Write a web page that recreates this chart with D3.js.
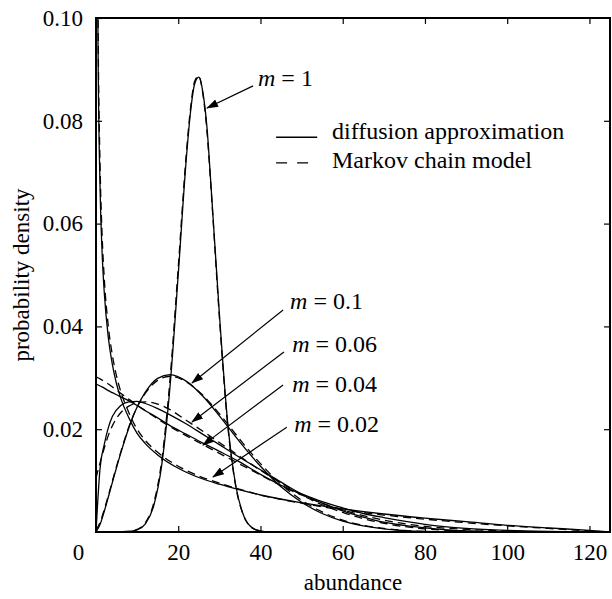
<!DOCTYPE html>
<meta charset="utf-8">
<script src="https://d3js.org/d3.v7.min.js"></script>
<div id="chart"></div>
<script>

// abundance grids
const xTail = [0, 1, 2, 3, 4, 6, 8, 10, 12, 15, 18, 22, 26, 30, 35, 40, 45, 50, 55, 60, 65, 70, 80, 90, 100, 110, 120];
const xNear = [0.3, 0.5, 1, 1.5, 2, 3, 4, 5, 6, 8, 10, 12, 15, 20, 25, 30, 35, 40, 50, 60, 70, 80, 90, 100, 110, 120, 125];
const xPeak = [0, 8, 10, 12, 14, 16, 18, 20, 22, 23, 24, 25, 26, 27, 28, 30, 32, 34, 36, 38, 40, 42, 50];

// m = 1
const m1Diff   = [0, .0001, .0004, .0016, .0050, .0131, .0283, .0501, .0730, .0818, .0872, .0885, .0855, .0786, .0670, .0425, .0215, .0090, .0030, .0008, .0002, 0, 0];
const m1Markov = [0, .0001, .0005, .0018, .0055, .0140, .0297, .0515, .0740, .0825, .0877, .0887, .0852, .0778, .0665, .0418, .0210, .0088, .0030, .0008, .0002, 0, 0];

// m = 0.1
const m01Diff   = [0, .0015, .0040, .0068, .0097, .0153, .0203, .0243, .0272, .0299, .0306, .0293, .0264, .0226, .0175, .0128, .0088, .0058, .0036, .0021, .0012, .0006, .0001, 0, 0, 0, 0];
const m01Markov = [.0004, .0019, .0043, .0071, .0100, .0155, .0205, .0243, .0270, .0295, .0303, .0292, .0266, .0230, .0180, .0133, .0093, .0062, .0039, .0023, .0013, .0007, .0001, 0, 0, 0, 0];

// m = 0.06
const m006Diff   = [0, .0125, .0170, .0203, .0225, .0246, .0253, .0254, .0250, .0240, .0228, .0210, .0190, .0170, .0145, .0121, .0097, .0074, .0056, .0041, .0029, .0019, .0008, .0002, .00005, 0, 0];
const m006Markov = [.0105, .0135, .0163, .0188, .0207, .0232, .0245, .0251, .0253, .0249, .0238, .0217, .0196, .0174, .0147, .0120, .0095, .0072, .0053, .0038, .0026, .0017, .0006, .0002, 0, 0, 0];

// m = 0.04
const m004Diff   = [.0288, .0284, .0280, .0275, .0271, .0263, .0255, .0246, .0236, .0222, .0207, .0190, .0173, .0157, .0136, .0112, .0091, .0074, .0059, .0047, .0036, .0028, .0015, .0007, .0003, .0001, 0];
const m004Markov = [.0302, .0298, .0293, .0288, .0282, .0270, .0258, .0247, .0236, .0220, .0205, .0187, .0170, .0153, .0132, .0111, .0090, .0072, .0056, .0043, .0032, .0023, .0011, .0005, .0002, 0, 0];

// m = 0.02
const m002Diff   = [.122, .0945, .0665, .0541, .0467, .0378, .0325, .0288, .0261, .0222, .0192, .0172, .0150, .0124, .0106, .0093, .0082, .0072, .0057, .0045, .0035, .0027, .0020, .0013, .0008, .0003, 0];
const m002Markov = [.130, .100, .071, .0575, .0495, .0400, .0343, .0303, .0274, .0232, .0200, .0178, .0155, .0128, .0109, .0095, .0083, .0072, .0056, .0043, .0033, .0025, .0018, .0012, .0007, .0002, 0];

// tick labels
const xTicks = [0, 20, 40, 60, 80, 100, 120];
const yTicks = [0.02, 0.04, 0.06, 0.08, 0.10];

// annotation labels: text, label anchor, arrow start, arrow tip (data units)
const annLabels = ["1", "0.1", "0.06", "0.04", "0.02"];
const annText  = [[39.4, .0868], [47.2, .0434], [47.7, .0350], [47.7, .0272], [48.2, .0195]];
const annStart = [[38.2, .0868], [45.5, .0432], [45.7, .0350], [45.5, .0286], [46.4, .0204]];
const annTip   = [[27.0, .0825], [23.35, .0290], [23.35, .0214], [26.0, .0169], [28.45, .0107]];

const series = [
  {x: xPeak, diff: m1Diff, markov: m1Markov},
  {x: xTail, diff: m01Diff, markov: m01Markov},
  {x: xTail, diff: m006Diff, markov: m006Markov},
  {x: xTail, diff: m004Diff, markov: m004Markov},
  {x: xNear, diff: m002Diff, markov: m002Markov}
];

const FONT = '"Liberation Serif"';
const W = 612, H = 599;
const margin = {top: 18, right: 2, bottom: 67, left: 96},
    width = W - margin.left - margin.right,
    height = H - margin.top - margin.bottom;

d3.select("body").style("margin", "0px");
const svg = d3.select("#chart").append("svg")
    .attr("width", W).attr("height", H)
    .style("font-family", FONT);

const defs = svg.append("defs");
defs.append("clipPath").attr("id", "plotclip")
  .append("rect").attr("width", width).attr("height", height);
defs.append("marker")
    .attr("id", "arrow")
    .attr("markerUnits", "userSpaceOnUse")
    .attr("markerWidth", 12).attr("markerHeight", 8)
    .attr("refX", 11).attr("refY", 4)
    .attr("orient", "auto")
  .append("path").attr("d", "M0,0 L12,4 L0,8 Z").attr("fill", "#000");

const g = svg.append("g").attr("transform", `translate(${margin.left},${margin.top})`);

const x = d3.scaleLinear().domain([0, 125]).range([0, width]);
const y = d3.scaleLinear().domain([0, 0.1]).range([height, 0]);

// curves
const line = d3.line()
    .x(d => x(d[0])).y(d => y(d[1]))
    .curve(d3.curveMonotoneX);

const curves = g.append("g").attr("clip-path", "url(#plotclip)");
series.forEach(s => {
  curves.append("path")
      .datum(s.x.map((v, i) => [v, s.diff[i]]))
      .attr("d", line)
      .attr("fill", "none").attr("stroke", "#000").attr("stroke-width", 1.3);
  curves.append("path")
      .datum(s.x.map((v, i) => [v, s.markov[i]]))
      .attr("d", line)
      .attr("fill", "none").attr("stroke", "#000").attr("stroke-width", 1.3)
      .attr("stroke-dasharray", "8,5");
});

// axes (ticks inward, box style)
const xAxis = g.append("g").attr("transform", `translate(0,${height})`)
    .call(d3.axisBottom(x).tickValues(xTicks).tickSize(-6).tickPadding(12).tickFormat(d3.format("d")));
xAxis.selectAll(".tick").filter(d => d === 0).select("text").attr("dx", -18);
xAxis.selectAll(".tick").filter(d => d === 0).select("line").remove();

const yAxis = g.append("g")
    .call(d3.axisLeft(y).tickValues(yTicks).tickSize(-6).tickPadding(13).tickFormat(d3.format(".2f")));

g.append("g").call(d3.axisTop(x).tickValues(xTicks.slice(1)).tickSize(-6).tickFormat(""));
g.append("g").attr("transform", `translate(${width},0)`)
    .call(d3.axisRight(y).tickValues(yTicks.slice(0, 4)).tickSize(-6).tickFormat(""));

g.selectAll(".domain").remove();
g.selectAll("g").attr("font-family", null).attr("font-size", null);
g.selectAll(".tick line").attr("stroke", "#000").attr("stroke-width", 1.2);
g.selectAll(".tick text").style("font-size", "23px");

g.append("rect").attr("width", width).attr("height", height)
    .attr("fill", "none").attr("stroke", "#000").attr("stroke-width", 2);

// axis titles
svg.append("text")
    .attr("x", margin.left + x(62.5)).attr("y", 590)
    .attr("text-anchor", "middle").style("font-size", "23px")
    .text("abundance");
svg.append("text")
    .attr("transform", `translate(29,${margin.top + y(0.05)}) rotate(-90)`)
    .attr("text-anchor", "middle").style("font-size", "23px")
    .text("probability density");

// legend
const leg = g.append("g");
leg.append("line")
    .attr("x1", x(43.8)).attr("x2", x(53.8)).attr("y1", y(.0768)).attr("y2", y(.0768))
    .attr("stroke", "#000").attr("stroke-width", 1.3);
leg.append("line")
    .attr("x1", x(43.8)).attr("x2", x(53.8)).attr("y1", y(.0718)).attr("y2", y(.0718))
    .attr("stroke", "#000").attr("stroke-width", 1.3).attr("stroke-dasharray", "11,10");
leg.append("text").attr("x", x(57.4)).attr("y", y(.0765)).style("font-size", "24px")
    .text("diffusion approximation");
leg.append("text").attr("x", x(57.4)).attr("y", y(.0708)).style("font-size", "24px")
    .text("Markov chain model");

// annotations
annLabels.forEach((lab, i) => {
  g.append("line")
      .attr("x1", x(annStart[i][0])).attr("y1", y(annStart[i][1]))
      .attr("x2", x(annTip[i][0])).attr("y2", y(annTip[i][1]))
      .attr("stroke", "#000").attr("stroke-width", 1.2)
      .attr("marker-end", "url(#arrow)");
  const t = g.append("text")
      .attr("x", x(annText[i][0])).attr("y", y(annText[i][1]))
      .style("font-size", "24px");
  t.append("tspan").style("font-style", "italic").text("m");
  t.append("tspan").text(" = " + lab);
});

svg.selectAll("text").style("font-family", FONT).attr("fill", "#000");

</script>
